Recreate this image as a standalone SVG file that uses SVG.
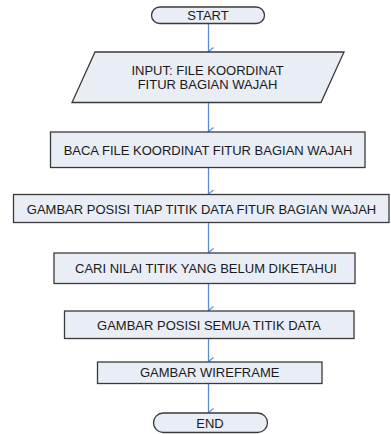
<svg xmlns="http://www.w3.org/2000/svg" width="391" height="434" viewBox="0 0 391 434">
<defs>
<style>
.box{fill:#e8edf6;stroke:#3a3a3a;stroke-width:1.3}
.t{font-family:"Liberation Sans",Arial,sans-serif;font-size:13px;fill:#1a1a1a;text-anchor:middle;dominant-baseline:central}
.c{stroke:#5b8bd0;stroke-width:1.3;fill:none}
.ah{stroke:#5b8bd0;stroke-width:1.1;fill:none}
</style>
<marker id="arr" markerWidth="12" markerHeight="8" refX="5" refY="6" orient="auto" markerUnits="userSpaceOnUse" viewBox="0 0 10 8">
<path class="ah" d="M1,1 L5,6 L9,1"/>
</marker>
</defs>
<rect width="391" height="434" fill="#ffffff"/>
<g id="connectors">
<line class="c" x1="208.5" y1="23.5" x2="208.5" y2="51.5" marker-end="url(#arr)"/>
<line class="c" x1="208.5" y1="102.5" x2="208.5" y2="131.5" marker-end="url(#arr)"/>
<line class="c" x1="208.5" y1="167.5" x2="208.5" y2="194" marker-end="url(#arr)"/>
<line class="c" x1="208.5" y1="222.5" x2="208.5" y2="252.5" marker-end="url(#arr)"/>
<line class="c" x1="208.5" y1="283.5" x2="208.5" y2="310.5" marker-end="url(#arr)"/>
<line class="c" x1="208.5" y1="338.5" x2="208.5" y2="361.5" marker-end="url(#arr)"/>
<line class="c" x1="208.5" y1="383.5" x2="208.5" y2="412.5" marker-end="url(#arr)"/>
</g>
<g id="start">
<rect class="box" x="151.5" y="7" width="113" height="16.5" rx="8.25"/>
<text class="t" x="208" y="15.5">START</text>
</g>
<g id="input">
<polygon class="box" points="95,52 344,52 321,102.5 72,102.5"/>
<text class="t" x="207.5" y="70.5">INPUT: FILE KOORDINAT</text>
<text class="t" x="207.5" y="84">FITUR BAGIAN WAJAH</text>
</g>
<g id="baca">
<rect class="box" x="50.5" y="132" width="314.5" height="35.5"/>
<text class="t" x="208" y="150.5">BACA FILE KOORDINAT FITUR BAGIAN WAJAH</text>
</g>
<g id="tiap">
<rect class="box" x="13.5" y="194.5" width="375.5" height="28"/>
<text class="t" x="201.5" y="209">GAMBAR POSISI TIAP TITIK DATA FITUR BAGIAN WAJAH</text>
</g>
<g id="cari">
<rect class="box" x="54" y="253" width="301" height="30.5"/>
<text class="t" x="206" y="268.5">CARI NILAI TITIK YANG BELUM DIKETAHUI</text>
</g>
<g id="semua">
<rect class="box" x="64.5" y="311" width="289.5" height="27.5"/>
<text class="t" x="209" y="325">GAMBAR POSISI SEMUA TITIK DATA</text>
</g>
<g id="wireframe">
<rect class="box" x="97.5" y="362" width="224.5" height="21.5"/>
<text class="t" x="209.7" y="372.5">GAMBAR WIREFRAME</text>
</g>
<g id="end">
<rect class="box" x="153.5" y="413" width="114" height="19.5" rx="9.75"/>
<text class="t" x="210" y="423">END</text>
</g>
</svg>
